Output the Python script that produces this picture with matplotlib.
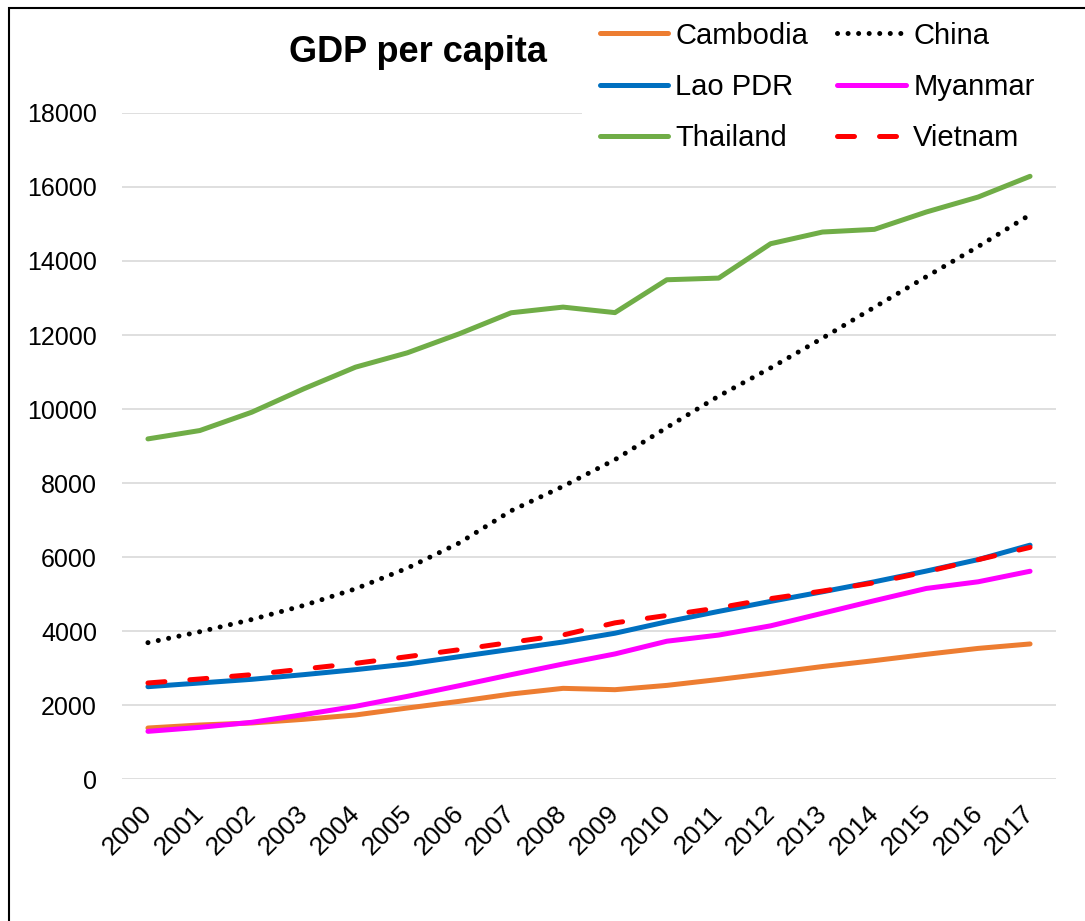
import matplotlib
matplotlib.use("Agg")
import matplotlib.pyplot as plt
import matplotlib.transforms as mtransforms
from matplotlib.patches import Rectangle

plt.rcParams['font.family'] = ['Liberation Sans', 'DejaVu Sans']

years = list(range(2000, 2018))
cambodia = [1378, 1459, 1514, 1613, 1730, 1919, 2099, 2297, 2450, 2414,
            2530, 2690, 2860, 3040, 3200, 3370, 3530, 3650]
china = [3685, 3980, 4310, 4690, 5140, 5700, 6380, 7250, 7910, 8630,
         9500, 10350, 11110, 11915, 12750, 13575, 14390, 15250]
lao = [2495, 2595, 2694, 2820, 2955, 3108, 3306, 3505, 3703, 3940,
       4250, 4530, 4800, 5060, 5330, 5620, 5930, 6320]
myanmar = [1288, 1396, 1532, 1739, 1964, 2234, 2522, 2820, 3108, 3380,
           3724, 3890, 4140, 4480, 4820, 5150, 5330, 5615]
thailand = [9192, 9418, 9913, 10544, 11131, 11519, 12033, 12601, 12754, 12605,
            13493, 13538, 14467, 14783, 14855, 15324, 15729, 16289]
vietnam = [2595, 2703, 2820, 2973, 3126, 3306, 3495, 3694, 3892, 4220,
           4420, 4627, 4875, 5079, 5305, 5600, 5928, 6260]

W, H = 1085, 921
fig = plt.figure(figsize=(W / 100, H / 100), dpi=100)
ax = fig.add_axes([122 / W, 1 - 779 / H, (1056 - 122) / W, (779 - 113) / H])

lw = 3.6
ax.plot(years, cambodia, color='#ED7D31', lw=lw, solid_capstyle='round', label='Cambodia')
ax.plot(years, lao, color='#0070C0', lw=lw, solid_capstyle='round', label='Lao PDR')
ax.plot(years, thailand, color='#70AD47', lw=lw, solid_capstyle='round', label='Thailand')
ax.plot(years, china, color='black', lw=lw, linestyle=(0, (0.01, 2.1)),
        dash_capstyle='round', label='China')
ax.plot(years, myanmar, color='#FF00FF', lw=lw, solid_capstyle='round', label='Myanmar')
ax.plot(years, vietnam, color='#FF0000', lw=lw, linestyle=(0, (3.4, 5.0)),
        dash_capstyle='round', label='Vietnam')

ax.set_xlim(1999.5, 2017.5)
ax.set_ylim(0, 18000)
ax.set_yticks(range(0, 18001, 2000))
ax.set_xticks(years)
ax.set_xticklabels([str(y) for y in years], rotation=45, ha='right', va='top',
                   rotation_mode='anchor', fontsize=19)
ax.tick_params(axis='both', length=0)
ax.tick_params(axis='y', pad=18, labelsize=18)
ax.tick_params(axis='x', pad=16)
# nudge the slanted year labels a little to the left
shift = mtransforms.ScaledTranslation(-0.08, 0, fig.dpi_scale_trans)
for lbl in ax.get_xticklabels():
    lbl.set_transform(lbl.get_transform() + shift)
ax.grid(axis='y', color='#D9D9D9', lw=1.2)
ax.set_axisbelow(True)
for s in ax.spines.values():
    s.set_visible(False)

# white area behind the legend, over the top gridline
ax.add_patch(Rectangle((582 / W, 1 - 165 / H), 0.5, 0.5, transform=fig.transFigure,
                       facecolor='white', edgecolor='none', zorder=1, clip_on=False))

fig.text(418 / W, 1 - 62 / H, 'GDP per capita', fontsize=26, fontweight='bold',
         ha='center', va='baseline')

ax.legend(loc='upper left', bbox_to_anchor=(585 / W, 1 - 7 / H),
          bbox_transform=fig.transFigure, ncol=2, fontsize=21, frameon=False,
          borderpad=0.5, borderaxespad=0,
          handlelength=2.35, handletextpad=0.25, labelspacing=0.8,
          columnspacing=1.0)

# outer frame
fig.add_artist(Rectangle((9 / W, -0.05), 1.2, 1 - 8 / H + 0.05,
                         transform=fig.transFigure, fill=False,
                         edgecolor='black', lw=1.5, zorder=10))

fig.savefig('out.png', dpi=100, facecolor='white')
